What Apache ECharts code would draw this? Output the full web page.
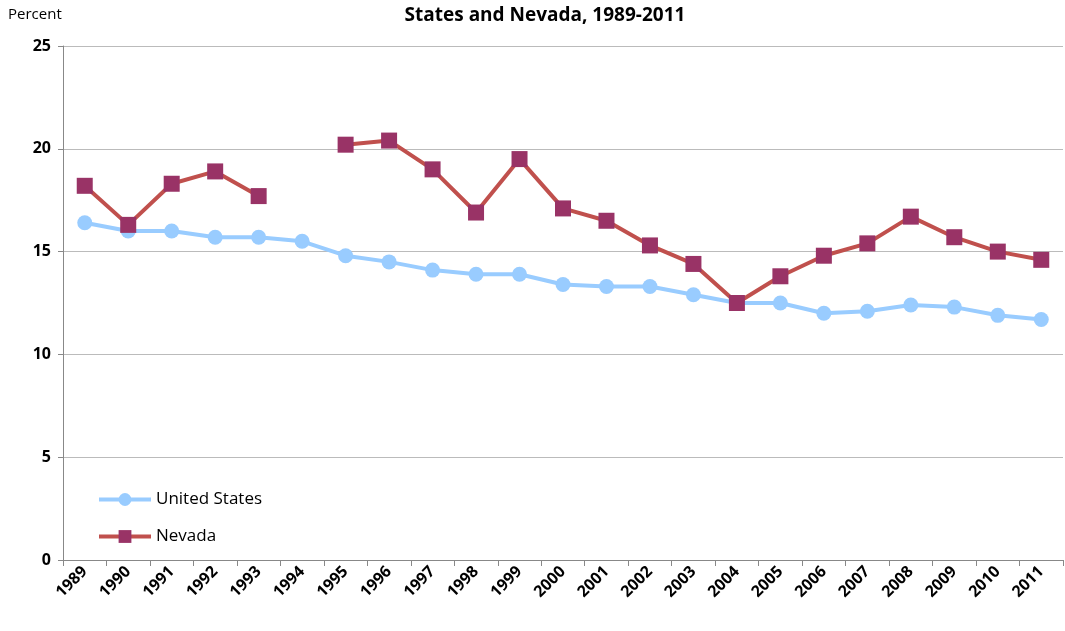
<!DOCTYPE html>
<html>
<head>
<meta charset="utf-8">
<script src="https://cdn.jsdelivr.net/npm/echarts@6/dist/echarts.min.js"></script>
<style>
  html, body { margin: 0; padding: 0; background: #fff; }
  #chart { width: 1065px; height: 631px; }
</style>
</head>
<body>
<div id="chart"></div>
<script>
const years = ["1989","1990","1991","1992","1993","1994","1995","1996","1997","1998","1999","2000",
  "2001","2002","2003","2004","2005","2006","2007","2008","2009","2010","2011"];
const unitedStates = [16.4, 16.0, 16.0, 15.7, 15.7, 15.5, 14.8, 14.5, 14.1, 13.9, 13.9, 13.4,
  13.3, 13.3, 12.9, 12.5, 12.5, 12.0, 12.1, 12.4, 12.3, 11.9, 11.7];
const nevada = [18.2, 16.3, 18.3, 18.9, 17.7, null, 20.2, 20.4, 19.0, 16.9, 19.5, 17.1,
  16.5, 15.3, 14.4, 12.5, 13.8, 14.8, 15.4, 16.7, 15.7, 15.0, 14.6];
const yTicks = [0, 5, 10, 15, 20, 25];

const font = "Open Sans";
const chart = echarts.init(document.getElementById("chart"));
chart.setOption({
  animation: false,
  textStyle: { fontFamily: font },
  title: {
    text: "States and Nevada, 1989-2011",
    left: 540, top: 1, textAlign: "center",
    textStyle: { fontSize: 19, fontWeight: "bold", color: "#000", fontFamily: font }
  },
  graphic: [{
    type: "text", left: 8, top: 7,
    style: { text: "Percent", fontSize: 15, fill: "#000", fontFamily: font }
  }],
  grid: { left: 63, right: 2, top: 46, bottom: 71 },
  legend: {
    orient: "vertical", left: 92, top: 486, itemGap: 20,
    itemWidth: 52, itemHeight: 16,
    textStyle: { fontSize: 17, color: "#000", fontFamily: font },
    lineStyle: { width: 4 },
    data: ["United States", "Nevada"]
  },
  xAxis: {
    type: "category", data: years, boundaryGap: true,
    axisLine: { lineStyle: { color: "#888", width: 1 } },
    axisTick: { show: true, length: 6, lineStyle: { color: "#888" } },
    axisLabel: { rotate: 45, fontSize: 16, fontWeight: "bold", color: "#000", margin: 9, interval: 0 }
  },
  yAxis: {
    type: "value", min: 0, max: 25, interval: 5,
    axisLine: { show: true, lineStyle: { color: "#888" } },
    axisTick: { show: true, length: 5, lineStyle: { color: "#888" } },
    splitLine: { lineStyle: { color: "#bbb", width: 1 } },
    axisLabel: {
      fontSize: 16, fontWeight: "bold", color: "#000", margin: 12,
      formatter: v => yTicks.includes(v) ? String(v) : ""
    }
  },
  series: [
    {
      name: "United States", type: "line", data: unitedStates,
      symbol: "circle", symbolSize: 15,
      lineStyle: { color: "#99CCFF", width: 4 },
      itemStyle: { color: "#99CCFF" }
    },
    {
      name: "Nevada", type: "line", data: nevada,
      symbol: "rect", symbolSize: 16,
      lineStyle: { color: "#C0504D", width: 4 },
      itemStyle: { color: "#993366" }
    }
  ]
});
</script>
</body>
</html>
